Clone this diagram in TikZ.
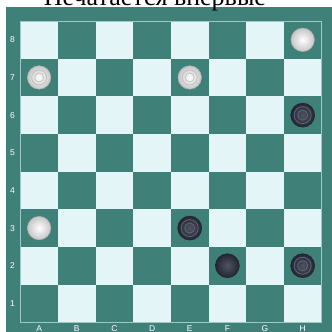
\documentclass[tikz,border=0pt]{standalone}
\usepackage{fontspec}
\setmainfont{Liberation Serif}
\newfontfamily\labelfont{Liberation Sans}
\definecolor{boardteal}{HTML}{3F8079}
\definecolor{lightsq}{HTML}{E3F5F6}
\definecolor{edgeline}{HTML}{9CC9C6}
\definecolor{bfill}{HTML}{252A3A}
\definecolor{bring}{HTML}{5E6478}
\tikzset{
  sq/.style={rectangle, inner sep=0pt, minimum size=37.65pt, draw=none},
  lab/.style={text=white, font=\labelfont\fontsize{8.5}{9}\selectfont, inner sep=0pt},
  wpiece/.style={circle, inner sep=0pt, minimum size=23.5pt, draw=gray!65, line width=0.5pt,
    inner color=white, outer color=gray!45},
  bpiece/.style={circle, inner sep=0pt, minimum size=24pt, draw=black!85, line width=0.5pt,
    inner color=bfill!80!white, outer color=bfill!90!black},
  wring/.style={draw=gray!50, line width=0.7pt},
  bring/.style={draw=bring, line width=0.8pt},
}
\begin{document}
\begin{tikzpicture}[x=1pt,y=-1pt]
\useasboundingbox (0,0) rectangle (332,332);
\clip (0,0) rectangle (332,332);
\fill[white] (0,0) rectangle (332,332);
% frame
\fill[boardteal] (6,7) rectangle (331.5,340);
% squares
\foreach \c in {0,...,7} {
  \foreach \r in {1,...,8} {
    \pgfmathtruncatemacro\pp{mod(\c+\r,2)}
    \ifnum\pp=1
      \node[sq, fill=boardteal] (sq-\c-\r) at ({20.3+37.65*(\c+0.5)},{21+37.65*(8-\r+0.5)}) {};
    \else
      \node[sq, fill=lightsq] (sq-\c-\r) at ({20.3+37.65*(\c+0.5)},{21+37.65*(8-\r+0.5)}) {};
    \fi
  }
}
\draw[edgeline, line width=0.6pt] (20.3,21) rectangle (321.5,322.2);
% rank labels
\foreach \r in {1,...,8} {
  \node[lab] (rank-\r) at (12.6,{21+37.65*(8-\r+0.5)}) {\r};
}
% file labels
\foreach \f [count=\i from 0] in {A,B,C,D,E,F,G,H} {
  \node[lab, anchor=base] (file-\f) at ({20.3+37.65*(\i+0.5)},331.3) {\f};
}
% title
\node[anchor=base, font=\fontsize{26}{28}\selectfont, inner sep=0pt] (title) at (155,5.5) {Печатается впервые};
% white pieces
\node[wpiece] (wH8) at (sq-7-8) {};
\node[wpiece] (wA7) at (sq-0-7) {};
\node[wpiece] (wE7) at (sq-4-7) {};
\node[wpiece] (wA3) at (sq-0-3) {};
\foreach \p in {wA7,wE7} {
  \draw[wring] (\p.center) circle[radius=7.5pt];
  \draw[wring] (\p.center) circle[radius=4.5pt];
}
% black pieces
\node[bpiece] (bH6) at (sq-7-6) {};
\node[bpiece] (bE3) at (sq-4-3) {};
\node[bpiece] (bF2) at (sq-5-2) {};
\node[bpiece] (bH2) at (sq-7-2) {};
\foreach \p in {bH6,bE3,bH2} {
  \draw[bring] (\p.center) circle[radius=8.5pt];
  \draw[bring] (\p.center) circle[radius=5pt];
}
\end{tikzpicture}
\end{document}
